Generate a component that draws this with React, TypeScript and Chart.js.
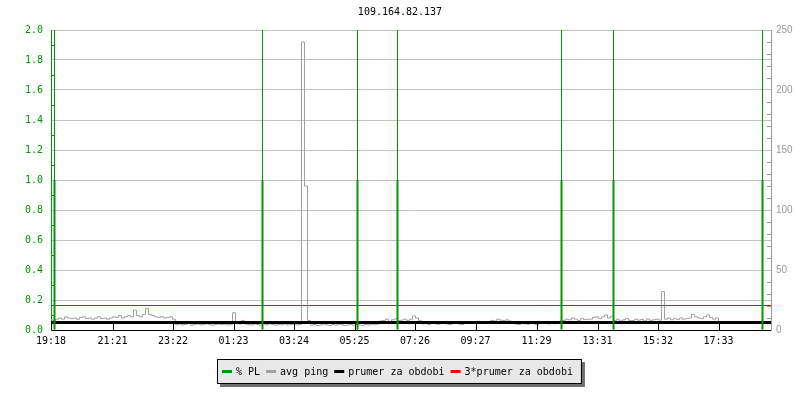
import React, { useEffect, useRef } from "react";
import { Chart, registerables } from "chart.js";

Chart.register(...registerables);

// ---------- data ----------
const chartTitle = "109.164.82.137";
const startTime = "19:18";
const spanMinutes = 1440;
const xTickLabels = ["19:18", "21:21", "23:22", "01:23", "03:24", "05:25", "07:26", "09:27", "11:29", "13:31", "15:32", "17:33"];

const plTickValues = [0, 0.2, 0.4, 0.6, 0.8, 1.0, 1.2, 1.4, 1.6, 1.8, 2.0];
const pingTickValues = [0, 50, 100, 150, 200, 250];

// packet-loss events (minutes from start) and their values
const plMinutes = [7, 423, 613, 693, 1021, 1125, 1423];
const plValues = [1, 1, 1, 1, 1, 1, 1];
const plMarkerValues = [2, 2, 2, 2, 2, 2, 2];

// avg ping (ms), one sample every 6 minutes
const pingStep = 6;
const pingValues = [
  8.5, 8, 9, 10, 9, 11, 10, 9.5, 10, 9,
  10.5, 11, 9.5, 10, 9, 10, 11, 9.5, 10, 9,
  10, 11, 10.5, 12, 10, 11, 12, 11, 16.5, 12,
  11, 13, 18, 13, 12, 11, 10.5, 11, 10, 10.5,
  11, 9, 4.5, 5, 4.2, 4.8, 5.5, 4, 4.5, 5,
  4.3, 4.7, 5.2, 4.4, 4, 4.6, 5, 4.5, 4.8, 4.2,
  4.5, 14.4, 5.5, 5, 8, 5, 4.5, 4.2, 5, 4.6,
  4, 4.8, 4.3, 5.2, 4.5, 4, 4.7, 4.4, 5, 4.2,
  4.6, 4.8, 4.3, 4.5, 240, 120, 8, 4, 4.5, 3.8,
  4.2, 5, 4.3, 3.9, 4.6, 4.1, 4.8, 4.4, 3.7, 4.2,
  4.5, 4, 4.7, 4.3, 3.9, 4.6, 4.2, 4.8, 4.4, 5,
  7.5, 8, 9, 7, 8.5, 9.4, 7.8, 8.2, 9, 8,
  9, 11.7, 10, 8, 5, 6, 4.5, 5.5, 6.5, 4.8,
  5.2, 6, 5, 4.5, 5.8, 6.2, 5, 4.6, 5.5, 6,
  6.5, 6, 7, 6.3, 6.8, 6.2, 7, 8, 7.5, 9,
  8.2, 7.8, 8.5, 7.5, 6, 5, 4.5, 6.5, 5.2, 4.8,
  6, 5.5, 4.3, 5.8, 5.5, 6, 5, 6.5, 5.2, 6,
  7.5, 8, 9, 8.5, 10, 9, 8, 9.5, 8.7, 9,
  9, 10.5, 11, 9.5, 11, 12.5, 10, 11.5, 8, 9,
  7.5, 8.5, 9.5, 8, 7.8, 9, 8.2, 8.8, 7.5, 9.2,
  8, 8.5, 9, 8.3, 32, 9, 10, 8.5, 9.5, 8.8,
  10, 9, 9.5, 10, 13, 11, 10, 9.5, 11, 12.5,
  10.5, 9, 10, 6.5, 7, 6, 6.8, 6.2, 7, 6.5,
  6, 6.8, 6.3, 7, 6.5, 6.2, 6.8, 6, 6.5, 6.3,
];

const meanPing = 6.25;
const threeMeanPing = 20.4;

const seriesNames = ["% PL", "avg ping", "prumer za obdobi", "3*prumer za obdobi"];
const seriesColors = ["#009a00", "#a0a0a0", "#000000", "#ff0000"];

// ---------- helpers ----------
const toMin = (t: string) => {
  const [h, m] = t.split(":").map(Number);
  return h * 60 + m;
};
const xTickMinutes = xTickLabels.map((t) => (toMin(t) - toMin(startTime) + 1440) % 1440);

const MONO = '"DejaVu Sans Mono", monospace';
const GREEN = seriesColors[0];

const decorPlugin = {
  id: "rrdDecor",
  afterDraw(chart: any) {
    const ctx = chart.ctx as CanvasRenderingContext2D;
    const area = chart.chartArea;
    const yS = chart.scales.y;
    const y1S = chart.scales.y1;
    const xS = chart.scales.x;
    ctx.save();
    ctx.lineWidth = 1;

    // left minor ticks
    ctx.strokeStyle = GREEN;
    for (let k = 1; k < 20; k += 2) {
      const py = Math.round(yS.getPixelForValue(k / 10)) + 0.5;
      ctx.beginPath();
      ctx.moveTo(area.left, py);
      ctx.lineTo(area.left + 4, py);
      ctx.stroke();
    }
    // right minor ticks
    ctx.strokeStyle = "#999999";
    for (let v = 10; v < 250; v += 10) {
      if (v % 50 === 0) continue;
      const py = Math.round(y1S.getPixelForValue(v)) + 0.5;
      ctx.beginPath();
      ctx.moveTo(area.right - 4, py);
      ctx.lineTo(area.right, py);
      ctx.stroke();
    }
    // x ticks (inward)
    ctx.strokeStyle = "#000000";
    xTickMinutes.forEach((m) => {
      const px = Math.round(xS.getPixelForValue(m)) + 0.5;
      ctx.beginPath();
      ctx.moveTo(px, area.bottom);
      ctx.lineTo(px, area.bottom - 6);
      ctx.stroke();
    });

    // title
    ctx.font = `10px ${MONO}`;
    ctx.fillStyle = "#000000";
    ctx.textAlign = "center";
    ctx.textBaseline = "middle";
    ctx.fillText(chartTitle, chart.width / 2, 12);

    // legend
    ctx.font = `10px ${MONO}`;
    const widths = seriesNames.map((n) => ctx.measureText(n).width);
    const sw = 10, gapSw = 4, gapItem = 6, padL = 5, padR = 8;
    const total = padL + widths.reduce((a, w) => a + sw + gapSw + w, 0) + gapItem * (seriesNames.length - 1) + padR;
    const bx = Math.round(chart.width / 2 - total / 2) - 1;
    const by = 359;
    const bh = 24;
    ctx.fillStyle = "#707070";
    ctx.fillRect(bx + 3, by + 3, total + 1, bh + 1);
    ctx.fillStyle = "#e8e8e8";
    ctx.fillRect(bx, by, total, bh);
    ctx.strokeStyle = "#000000";
    ctx.strokeRect(bx + 0.5, by + 0.5, total, bh);
    let cx = bx + padL;
    ctx.textAlign = "left";
    ctx.textBaseline = "alphabetic";
    seriesNames.forEach((n, i) => {
      ctx.fillStyle = seriesColors[i];
      ctx.fillRect(cx, by + 11, sw, 3);
      cx += sw + gapSw;
      ctx.fillStyle = "#000000";
      ctx.fillText(n, cx, by + 15.5);
      cx += widths[i] + gapItem;
    });
    ctx.restore();
  },
};

export default function App() {
  const ref = useRef<HTMLCanvasElement | null>(null);

  useEffect(() => {
    if (!ref.current) return;
    const chart = new Chart(ref.current, {
      type: "line",
      data: {
        datasets: [
          {
            type: "bar",
            label: seriesNames[0],
            data: plMinutes.map((m, i) => ({ x: m, y: plValues[i] })),
            backgroundColor: GREEN,
            borderWidth: 0,
            barThickness: 2,
            grouped: false,
            inflateAmount: 0,
            yAxisID: "y",
            order: 0,
          } as any,
          {
            type: "bar",
            label: seriesNames[0] + " marker",
            data: plMinutes.map((m, i) => ({ x: m, y: plMarkerValues[i] })),
            backgroundColor: GREEN,
            borderWidth: 0,
            barThickness: 1,
            grouped: false,
            inflateAmount: 0,
            yAxisID: "y",
            order: 1,
          } as any,
          {
            type: "line",
            label: seriesNames[2],
            data: [
              { x: 0, y: meanPing },
              { x: spanMinutes, y: meanPing },
            ],
            borderColor: seriesColors[2],
            borderWidth: 3,
            pointRadius: 0,
            yAxisID: "y1",
            order: 2,
          },
          {
            type: "line",
            label: seriesNames[3],
            data: [
              { x: 0, y: threeMeanPing },
              { x: spanMinutes, y: threeMeanPing },
            ],
            borderColor: seriesColors[3],
            borderWidth: 1,
            pointRadius: 0,
            yAxisID: "y1",
            order: 3,
          },
          {
            type: "line",
            label: seriesNames[1],
            data: pingValues.map((v, i) => ({ x: i * pingStep, y: v })),
            borderColor: seriesColors[1],
            borderWidth: 1,
            pointRadius: 0,
            stepped: "middle",
            yAxisID: "y1",
            order: 4,
          },
        ],
      },
      options: {
        animation: false,
        responsive: false,
        maintainAspectRatio: false,
        layout: { padding: { top: 30, left: 0, right: 0, bottom: 0 } },
        plugins: {
          legend: { display: false },
          title: { display: false },
          tooltip: { enabled: false },
        },
        scales: {
          x: {
            type: "linear",
            min: 0,
            max: spanMinutes,
            offset: false,
            grid: { display: false, drawTicks: false },
            border: { color: "#000000", width: 1 },
            afterBuildTicks: (s: any) => {
              s.ticks = xTickMinutes.map((v) => ({ value: v }));
            },
            ticks: {
              autoSkip: false,
              maxRotation: 0,
              padding: 5,
              color: "#000000",
              font: { family: MONO, size: 10 },
              callback: (v: any) => {
                const i = xTickMinutes.indexOf(Number(v));
                return i >= 0 ? xTickLabels[i] : "";
              },
            },
            afterFit: (s: any) => {
              s.height = 70;
            },
          },
          y: {
            position: "left",
            min: 0,
            max: 2,
            afterBuildTicks: (s: any) => {
              s.ticks = plTickValues.map((v) => ({ value: v }));
            },
            grid: { color: "#c0c0c0", drawTicks: false },
            border: { color: GREEN, width: 1 },
            ticks: {
              padding: 8,
              color: GREEN,
              font: { family: MONO, size: 10 },
              callback: (v: any) => Number(v).toFixed(1),
            },
            afterFit: (s: any) => {
              s.width = 51;
            },
          },
          y1: {
            position: "right",
            min: 0,
            max: 250,
            afterBuildTicks: (s: any) => {
              s.ticks = pingTickValues.map((v) => ({ value: v }));
            },
            grid: { display: false, drawTicks: false },
            border: { color: "#999999", width: 1 },
            ticks: {
              padding: 5,
              color: "#999999",
              font: { family: '"Liberation Sans", sans-serif', size: 10 },
              callback: (v: any) => String(v),
            },
            afterFit: (s: any) => {
              s.width = 29;
            },
          },
        },
      } as any,
      plugins: [decorPlugin],
    });
    return () => chart.destroy();
  }, []);

  return (
    <div style={{ position: "fixed", left: 0, top: 0, width: 800, height: 400, background: "#ffffff" }}>
      <canvas ref={ref} width={800} height={400} style={{ width: 800, height: 400, display: "block" }} />
    </div>
  );
}
